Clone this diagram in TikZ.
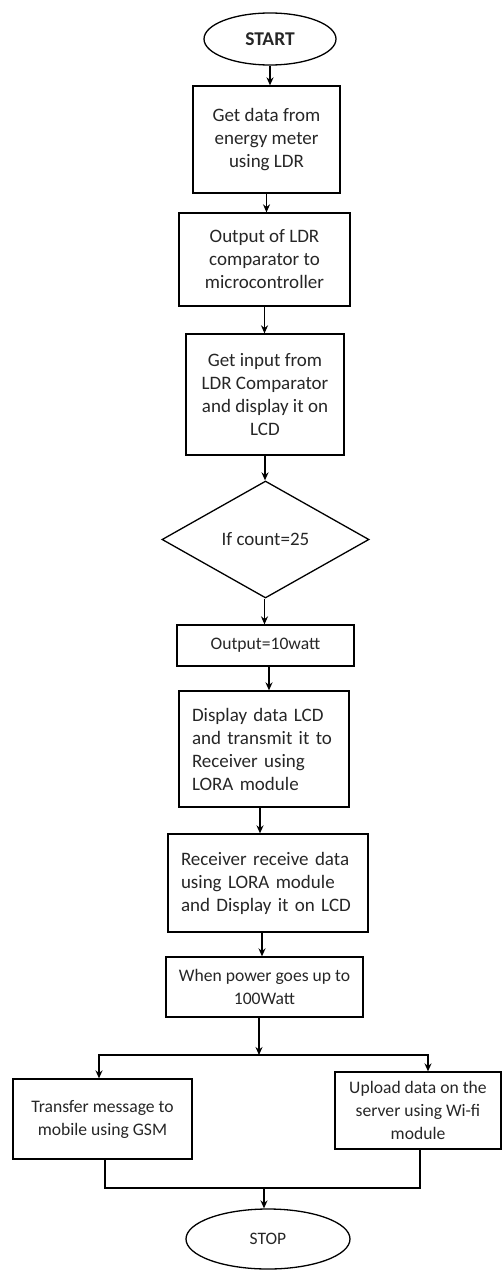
\documentclass[tikz,border=0pt]{standalone}
\usepackage{fontspec}
\setmainfont{Carlito}
\usetikzlibrary{shapes.geometric,arrows.meta}

\begin{document}
\begin{tikzpicture}[x=1pt,y=-1pt, line width=1.3pt,
        >={Stealth[length=8pt,width=7pt]},
        box/.style={draw, rectangle, align=center, inner sep=0pt, text=black!85,
            font=\fontsize{19}{23}\selectfont},
        smallbox/.style={box, font=\fontsize{17.6}{23}\selectfont},
        leftbox/.style={box, align=left, inner xsep=13pt, text width=#1},
        term/.style={draw, ellipse, inner sep=0pt, text=black!85}]

    \useasboundingbox (0,0) rectangle (502,1271);

    % Start and stop
    \node[term, minimum width=132pt, minimum height=52pt,
        font=\bfseries\fontsize{19.5}{23}\selectfont] (start) at (270,39) {START};
    \node[term, minimum width=164pt, minimum height=60pt,
        font=\fontsize{17.5}{23}\selectfont] (stop) at (268,1239) {STOP};

    % Main column
    \node[box, minimum width=147pt, minimum height=107pt] (get) at (266.5,139.5)
        {Get data from\\energy meter\\using LDR};
    \node[box, minimum width=171pt, minimum height=93pt] (cmp) at (264.5,259.5)
        {Output of LDR\\comparator to\\microcontroller};
    \node[box, minimum width=158pt, minimum height=121pt] (inp) at (265,394.5)
        {Get input from\\LDR Comparator\\and display it on\\LCD};
    \node[draw, diamond, minimum width=207pt, minimum height=117pt, inner sep=0pt,
        text=black!85, font=\fontsize{19}{23}\selectfont] (cond) at (265.5,539.5) {If count=25};
    \node[smallbox, minimum width=177pt, minimum height=41pt] (watt) at (265.5,645.5)
        {Output=10watt};
    \node[leftbox=144pt, minimum height=116pt] (show) at (264,749)
        {Display data LCD\\and transmit it to\\Receiver using\\LORA module};
    \node[leftbox=174pt, minimum height=98pt] (recv) at (268,883)
        {Receiver receive data\\using LORA module\\and Display it on LCD};
    \node[smallbox, minimum width=197pt, minimum height=60pt] (when) at (264.5,987)
        {When power goes up to\\100Watt};

    % The two branches
    \node[smallbox, minimum width=179pt, minimum height=80pt] (gsm) at (102.5,1119)
        {Transfer message to\\mobile using GSM};
    \node[smallbox, minimum width=166pt, minimum height=77pt] (wifi) at (418,1110.5)
        {Upload data on the\\server using Wi-fi\\module};

    % Arrows down the column, \s shifts the line off the centre
    \foreach \a/\b/\s in {start/get/0, get/cmp/0, cmp/inp/0, inp/cond/0,
            cond/watt/-1, watt/show/3.5, show/recv/-4, recv/when/-6}
        \draw[->] ([xshift=\s pt]\a.south) -- ([xshift=\s pt]\a.south |- \b.north);

    % Split into the branches
    \coordinate (split) at (259,1055);
    \draw[->] (when.south -| split) -- (split);
    \draw[->] (split) -| ([xshift=-3.5pt]gsm.north);
    \draw[->] (split) -| ([xshift=10pt]wifi.north);

    % Join again before the end
    \coordinate (join) at (264,1188);
    \draw ([xshift=2.5pt]gsm.south) |- (join) -| ([xshift=2pt]wifi.south);
    \draw[->] (join) -- (join |- stop.north);
\end{tikzpicture}
\end{document}
